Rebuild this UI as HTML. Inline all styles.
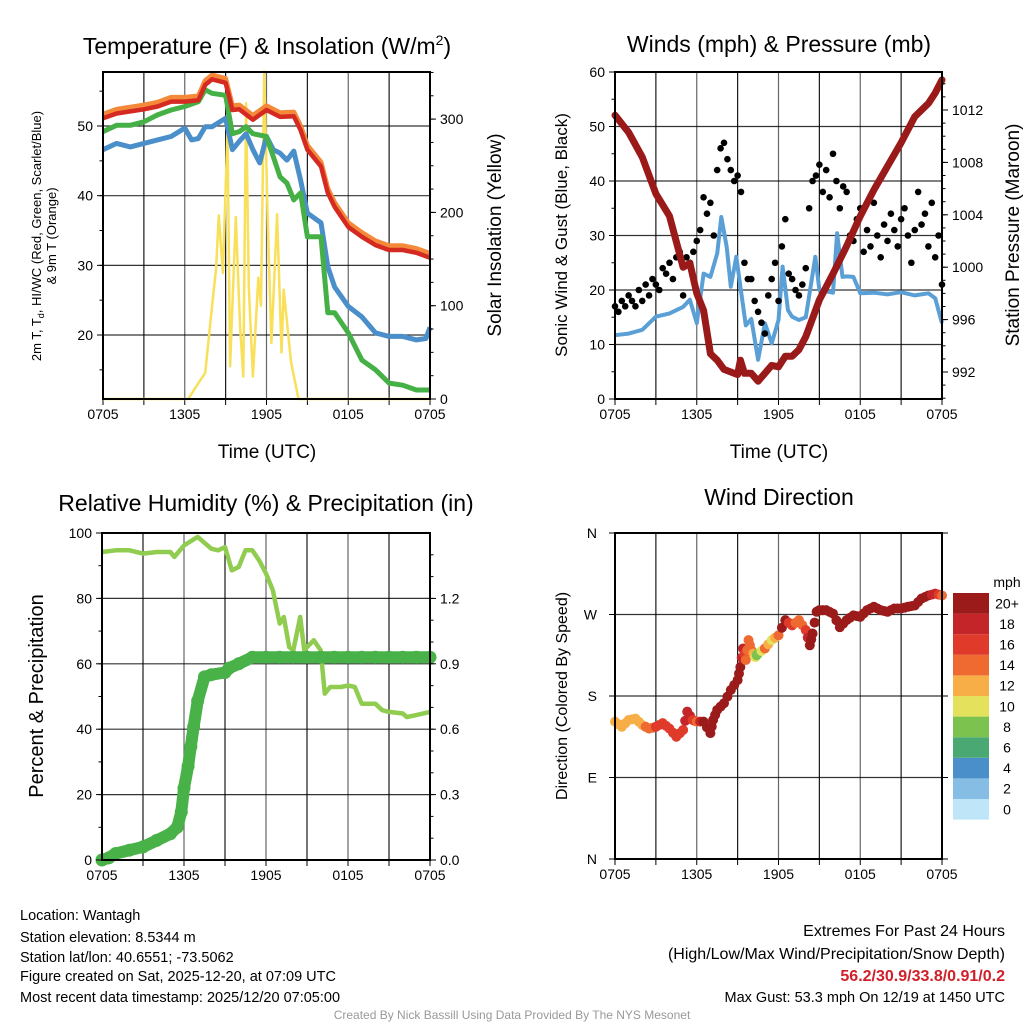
<!DOCTYPE html>
<html><head><meta charset="utf-8"><style>
html,body{margin:0;padding:0;background:#fff;}
svg{display:block;font-family:"Liberation Sans",sans-serif;}
</style></head><body>
<svg id="c" width="1024" height="1024" viewBox="0 0 1024 1024" xmlns="http://www.w3.org/2000/svg">
<rect width="1024" height="1024" fill="#fff"/>
<text x="267" y="54" font-size="23" text-anchor="middle">Temperature (F) &amp; Insolation (W/m<tspan dy="-9" font-size="14">2</tspan><tspan dy="9">)</tspan></text>
<text x="779" y="52" font-size="23" text-anchor="middle">Winds (mph) &amp; Pressure (mb)</text>
<text x="266" y="511" font-size="23" text-anchor="middle">Relative Humidity (%) &amp; Precipitation (in)</text>
<text x="779" y="505" font-size="23" text-anchor="middle">Wind Direction</text>
<g font-size="13" text-anchor="middle">
<text transform="translate(41,236) rotate(-90)">2m T, T<tspan font-size="9" dy="3">d</tspan><tspan dy="-3">, HI/WC (Red, Green, Scarlet/Blue)</tspan></text>
<text transform="translate(56,236) rotate(-90)">&amp; 9m T (Orange)</text>
</g>
<text transform="translate(501,235) rotate(-90)" font-size="19" text-anchor="middle">Solar Insolation (Yellow)</text>
<text x="267" y="458" font-size="19" text-anchor="middle">Time (UTC)</text>
<text x="779" y="458" font-size="19" text-anchor="middle">Time (UTC)</text>
<text transform="translate(567,235) rotate(-90)" font-size="17" text-anchor="middle">Sonic Wind &amp; Gust (Blue, Black)</text>
<text transform="translate(1019,235) rotate(-90)" font-size="19" text-anchor="middle">Station Pressure (Maroon)</text>
<text transform="translate(43,696) rotate(-90)" font-size="20" text-anchor="middle">Percent &amp; Precipitation</text>
<text transform="translate(567,696) rotate(-90)" font-size="16" text-anchor="middle">Direction (Colored By Speed)</text>
<g font-size="14.5">
<text x="20" y="920">Location: Wantagh</text>
<text x="20" y="942">Station elevation: 8.5344 m</text>
<text x="20" y="962">Station lat/lon: 40.6551; -73.5062</text>
<text x="20" y="981">Figure created on Sat, 2025-12-20, at 07:09 UTC</text>
<text x="20" y="1002">Most recent data timestamp: 2025/12/20 07:05:00</text>
</g>
<g text-anchor="end">
<text x="1005" y="936" font-size="16">Extremes For Past 24 Hours</text>
<text x="1005" y="959" font-size="16">(High/Low/Max Wind/Precipitation/Snow Depth)</text>
<text x="1005" y="981" font-size="16" font-weight="bold" fill="#d0202a">56.2/30.9/33.8/0.91/0.2</text>
<text x="1005" y="1002" font-size="14.5">Max Gust: 53.3 mph On 12/19 at 1450 UTC</text>
</g>
<text x="512" y="1019" font-size="12" fill="#999" text-anchor="middle">Created By Nick Bassill Using Data Provided By The NYS Mesonet</text>
<g id="layer"></g>
</svg>
<script>
// ---------- data ----------
const xTickLabels = ["0705","1305","1905","0105","0705"];
const tRed = [0,1,2,3,4,5,6,7,7.5,8,9,9.5,10,11,12,13,14,14.5,15,16,16.5,17,18,19,20,21,22,23,24];
const tempRed = [51.1,51.8,52.1,52.4,52.8,53.5,53.5,53.7,55.9,56.7,56.2,52.3,52.4,50.9,52.3,51.3,51.4,49.4,46.6,44.2,40.4,38.4,35.5,34.1,32.9,32.2,32.2,31.8,31.1];
const tempOrangeOffset = [0.6];
const tGreen = [0,1,2,3,4,5,6,7,7.5,8,9,9.5,10,10.5,11,12,12.5,13,13.5,14,14.5,15,16,16.5,17,18,19,20,21,22,23,24];
const tempGreen = [49.2,50.1,50.1,50.6,51.6,52.3,52.8,53.5,55.2,54.7,54.4,48.9,49.2,49.9,48.9,48.5,45.6,42.7,41.8,39.4,40.4,34.1,34.1,23.2,23.2,20.3,16.4,15,13.1,12.8,12.1,12.1];
const tBlue = [0,1,2,3,4,5,6,6.5,7,7.5,8,9,9.5,10,10.5,11,11.5,12,12.5,13,13.5,14,14.5,15,16,16.5,17,18,19,20,21,22,23,23.7,24];
const tempBlue = [46.6,47.5,47,47.5,48,48.5,49.7,48,48.2,49.9,49.9,51.1,46.6,47.8,48.9,46.6,44.7,48.5,46.6,46.1,45.1,46.4,42.2,37.5,36.1,29.8,26.9,24.1,22.6,20.3,19.8,19.8,19.3,19.5,21.1];
const tSolar = [0,6.25,7,7.5,8,8.3,8.5,8.8,9.14,9.33,9.75,10.06,10.3,10.5,10.7,11,11.4,11.6,11.83,12.07,12.36,12.78,13.1,13.26,13.8,14.35,24];
const solar = [0,0,17,28,99,140,197,135,288,35,195,77,24,317,120,24,130,100,351,200,60,198,50,117,40,0,0];
const tempTicks = [20,30,40,50];
const solarTicks = [0,100,200,300];

const tPres = [0,1,2,3,4,5,5.5,6,6.5,7,7.5,8,8.5,9,9.2,9.5,10,10.5,11,11.5,12,12.5,13,13.5,14,15,16,17,18,19,20,21,22,23,23.5,24];
const pressure = [1011.6,1010.3,1008.4,1005.6,1003.9,1000,1000.3,998,996.7,993.4,992.9,992.2,992,991.8,992.9,991.9,991.9,991.3,991.9,992.5,992.4,993.2,993.2,993.7,994.7,997.5,999.5,1001.6,1003.9,1005.9,1007.7,1009.5,1011.5,1012.5,1013.3,1014.3];
const tWind = [0,1,2,3,4,5,5.5,6,6.5,7,7.5,7.8,8.2,8.5,8.9,9.2,9.6,10,10.5,11,11.5,12,12.3,12.7,13,13.5,14,14.7,15,16,16.3,16.7,17,17.5,18,19,20,21,22,23,23.5,24];
const wind = [11.7,12,12.7,15.1,15.7,16.9,18.2,13.9,23,22.4,26.7,33.4,27.9,20.6,26.1,20.6,13.5,14.7,7.2,13.9,10.2,14.5,24.3,16.3,15.1,14.5,15,26.1,20,19.5,30.4,22.4,22.5,22.4,19.4,19.5,19.2,19.6,19,19.4,18.5,13.9];
const gusts = [17,16,18,17, 19,18,17,20, 18,21,19,22, 21,20,24,23, 25,22,26,27, 19,26,25,27, 29,31,37,34, 36,30,42,46, 47,44,42,40, 41,38,25,22, 22,18,16,14, 12,19,22,25, 18,28,33,23, 22,20,19,21, 24,35,40,41, 43,38,42,37, 45,40,35,39, 38,30,29,33, 35,27,31,28, 36,30,26,32, 29,34,31,28, 33,35,30,25, 31,38,32,34, 28,36,26,30, 21];
const gustStep = [0.25];
const windTicks = [0,10,20,30,40,50,60];
const presTicks = [992,996,1000,1004,1008,1012];

const tRH = [0,1,2,3,4,5,5.3,6,7,8,8.5,9,9.5,10,10.5,11,11.5,12,12.5,13,13.3,13.7,14,14.5,14.8,15,15.5,16,16.3,16.7,17,17.5,18,18.5,19,20,20.5,21,22,22.3,23,24];
const rh = [94.2,94.7,94.7,93.7,94.2,94.2,92.7,96.2,98.8,95.2,94.7,95.7,88.6,89.6,94.7,94.7,91.6,87.6,82.5,72.3,74.3,65.1,64.1,74.3,64.1,65.1,67.2,64.1,50.9,52.9,52.9,52.9,53.4,52.9,47.8,47.8,45.8,45.3,44.8,43.7,44.3,45.3];
const tPrecip = [0,0.5,1,2,3,4,5,5.5,5.8,6,6.3,6.5,6.7,7,7.5,8,9,9.3,10,11,12,13,14,15,16,17,18,19,20,21,22,23,24];
const precip = [0,0.01,0.03,0.045,0.06,0.09,0.12,0.15,0.22,0.33,0.43,0.52,0.61,0.73,0.84,0.85,0.86,0.88,0.9,0.93,0.93,0.93,0.93,0.93,0.93,0.93,0.93,0.93,0.93,0.93,0.93,0.93,0.93];
const rhTicks = [0,20,40,60,80,100];
const precipTicks = ["0.0","0.3","0.6","0.9","1.2"];

const tDir = [0,0.5,1,1.5,2,2.5,3,3.5,4,4.5,5,5.3,5.7,6,6.5,7,7.2,7.5,8,8.5,9,9.2,9.4,9.6,9.8,10,10.3,10.5,11,11.5,12,12.5,13,13.5,14,14.3,14.5,14.8,15,15.5,16,16.5,17,17.5,18,18.5,19,19.5,20,20.5,21,21.5,22,22.5,23,23.5,24];
const direction = [151.7,146,153.5,155,148,144,146,150,144,135,142.5,162.7,153.5,151.7,151.7,139,153.5,164.6,172,186.6,197.6,212,232.5,219.7,241.7,230.7,223,227,232.5,241.7,247,263.8,258,263.8,252.7,236,249,273,274.8,274.8,271,256,263.8,269,267.4,274.8,278.5,274.8,273,276.6,276.6,278.5,280,287.6,291,293,291];
const dirLabels = ["N","W","S","E","N"];
const dirTickDeg = [360,270,180,90,0];
const speedLabels = ["0","2","4","6","8","10","12","14","16","18","20+"];
const speedColors = ["#bfe6f8","#85bde4","#4a8fca","#4aa872","#7cc24f","#e4e15c","#f7ae46","#ef6a30","#df3a2a","#c32528","#9b1b1b"];

// ---------- helpers ----------
const NS = "http://www.w3.org/2000/svg";
const layer = document.getElementById("layer");
function el(tag, attrs, parent) {
  const e = document.createElementNS(NS, tag);
  for (const k in attrs) e.setAttribute(k, attrs[k]);
  (parent || layer).appendChild(e);
  return e;
}
function interp(ts, vs, t) {
  for (let i = 0; i < ts.length - 1; i++) {
    if (t >= ts[i] && t <= ts[i+1]) { const f = (t - ts[i]) / (ts[i+1] - ts[i] || 1); return vs[i] + f * (vs[i+1] - vs[i]); }
  }
  return vs[vs.length - 1];
}
function pathD(ts, vs, X, Y) { return ts.map((t, i) => (i ? "L" : "M") + X(t).toFixed(1) + "," + Y(vs[i]).toFixed(1)).join(""); }

function frame(x0, x1, y0, y1, name, hGrid) {
  const g = el("g", {});
  
  
  for (let h = 3; h < 24; h += 3) {
    const x = x0 + h * (x1 - x0) / 24;
    el("line", {x1: x, x2: x, y1: y0, y2: y1, stroke: "#000", "stroke-width": 1.2, "stroke-opacity": h % 6 === 0 ? 0.6 : 0.9}, g);
  }
  hGrid.forEach(y => el("line", {x1: x0, x2: x1, y1: y, y2: y, stroke: "#000", "stroke-width": 1.2, "stroke-opacity": 0.8}, g));
  for (let h = 0; h <= 24; h += 3) {
    const x = x0 + h * (x1 - x0) / 24;
    el("line", {x1: x, x2: x, y1: y1, y2: y1 + 6, stroke: "#000", "stroke-width": 1}, g);
    if (h % 6 === 0) {
      const tx = el("text", {x: x, y: y1 + 20, "font-size": 14, "text-anchor": "middle"}, g);
      
      
      tx.textContent = xTickLabels[h / 6];
    }
  }
  return g;
}
function border(x0, x1, y0, y1) {
  const r = el("rect", {x: x0, y: y0, width: x1 - x0, height: y1 - y0, fill: "none", stroke: "#000", "stroke-width": 2});
  
  
}
function yTicks(vals, labels, Y, x, side, name, minorStep, vmin, vmax) {
  const dir = side === "left" ? -1 : 1;
  vals.forEach((v, i) => {
    const y = Y(v);
    el("line", {x1: x, x2: x + dir * 6, y1: y, y2: y, stroke: "#000", "stroke-width": 1});
    const t = el("text", {x: x + dir * 10, y: y + 5, "font-size": 14, "text-anchor": side === "left" ? "end" : "start"});
    
    
    t.textContent = labels[i];
  });
  if (minorStep) for (let v = Math.ceil(vmin / minorStep) * minorStep; v <= vmax; v += minorStep) {
    const y = Y(v);
    el("line", {x1: x, x2: x + dir * 3.5, y1: y, y2: y, stroke: "#000", "stroke-width": 1});
  }
}

// ---------- Panel 1: temperature ----------
(function () {
  const x0 = 103, x1 = 430, y0 = 72, y1 = 399;
  const X = t => x0 + t * (x1 - x0) / 24;
  const YT = v => 126 + (50 - v) * 6.967;
  const YS = v => 399 - v * 0.933;
  frame(x0, x1, y0, y1, "temperature", tempTicks.map(YT));
  const s = el("path", {d: pathD(tSolar, solar, X, YS), fill: "none", stroke: "#f8e05a", "stroke-width": 2.5, "stroke-linejoin": "round"});
  
  
  const b = el("path", {d: pathD(tBlue, tempBlue, X, YT), fill: "none", stroke: "#4a8fca", "stroke-width": 5, "stroke-linejoin": "round"});
  
  
  const g = el("path", {d: pathD(tGreen, tempGreen, X, YT), fill: "none", stroke: "#45b045", "stroke-width": 5, "stroke-linejoin": "round"});
  
  
  const o = el("path", {d: pathD(tRed, tempRed.map(v => v + tempOrangeOffset[0]), X, YT), fill: "none", stroke: "#f5893a", "stroke-width": 5, "stroke-linejoin": "round"});
  
  
  const r = el("path", {d: pathD(tRed, tempRed, X, YT), fill: "none", stroke: "#d42a22", "stroke-width": 4.5, "stroke-linejoin": "round"});
  
  
  border(x0, x1, y0, y1);
  yTicks(tempTicks, tempTicks.map(String), YT, x0, "left", "temperature-y", 5, 12, 57);
  yTicks(solarTicks, solarTicks.map(String), YS, x1, "right", "insolation-y", 25, 0, 350);
})();

// ---------- Panel 2: winds & pressure ----------
(function () {
  const x0 = 615, x1 = 942, y0 = 72, y1 = 399;
  const X = t => x0 + t * (x1 - x0) / 24;
  const YW = v => 399 - v * 5.45;
  const YP = p => 372 - (p - 992) * 13.1;
  frame(x0, x1, y0, y1, "winds", windTicks.slice(1, 6).map(YW));
  const w = el("path", {d: pathD(tWind, wind, X, YW), fill: "none", stroke: "#5a9fd6", "stroke-width": 4, "stroke-linejoin": "round"});
  
  
  gusts.forEach((v, i) => {
    const c = el("circle", {cx: X(i * gustStep[0]), cy: YW(v), r: 3.3, fill: "#000"});
    
    
  });
  const p = el("path", {d: pathD(tPres, pressure, X, YP), fill: "none", stroke: "#9a1a1a", "stroke-width": 7, "stroke-linejoin": "round", "stroke-linecap": "round"});
  
  
  border(x0, x1, y0, y1);
  yTicks(windTicks, windTicks.map(String), YW, x0, "left", "wind-y", 5, 0, 60);
  yTicks(presTicks, presTicks.map(String), YP, x1, "right", "pressure-y", 1, 990, 1014);
})();

// ---------- Panel 3: RH & precip ----------
(function () {
  const x0 = 102, x1 = 430, y0 = 533, y1 = 860;
  const X = t => x0 + t * (x1 - x0) / 24;
  const YR = v => 860 - v * 3.27;
  const YPr = p => 860 - p * 218;
  frame(x0, x1, y0, y1, "humidity", rhTicks.slice(1, 5).map(YR));
  const r = el("path", {d: pathD(tRH, rh, X, YR), fill: "none", stroke: "#8fcc4f", "stroke-width": 4.5, "stroke-linejoin": "round"});
  
  
  const pp = el("path", {d: pathD(tPrecip, precip, X, YPr), fill: "none", stroke: "#48b248", "stroke-width": 12, "stroke-linejoin": "round", "stroke-linecap": "round"});
  
  
  tPrecip.forEach((t, i) => {
    const c = el("circle", {cx: X(t), cy: YPr(precip[i]), r: 6.5, fill: "#48b248"});
    
    
  });
  border(x0, x1, y0, y1);
  yTicks(rhTicks, rhTicks.map(String), YR, x0, "left", "humidity-y", 10, 0, 100);
  yTicks(precipTicks.map(Number), precipTicks, YPr, x1, "right", "precip-y", 0.1, 0, 1.5);
})();

// ---------- Panel 4: wind direction ----------
(function () {
  const x0 = 615, x1 = 942, y0 = 533, y1 = 859;
  const X = t => x0 + t * (x1 - x0) / 24;
  const YD = d => 859 - d * 326 / 360;
  const colorFor = sp => speedColors[Math.min(10, Math.max(0, Math.round(sp / 2)))];
  frame(x0, x1, y0, y1, "direction", dirTickDeg.slice(1, 4).map(YD));
  tDir.forEach((t, i) => {
    const c = el("circle", {cx: X(t), cy: YD(direction[i]), r: 5, fill: colorFor(interp(tWind, wind, t))});
    
    
    if (i < tDir.length - 1) {
      const tm = (t + tDir[i+1]) / 2;
      const c2 = el("circle", {cx: X(tm), cy: YD((direction[i] + direction[i+1]) / 2), r: 5, fill: colorFor(interp(tWind, wind, tm))});
      
      
    }
  });
  border(x0, x1, y0, y1);
  dirTickDeg.forEach((d, i) => {
    const y = YD(d);
    el("line", {x1: x0 - 6, x2: x0, y1: y, y2: y, stroke: "#000"});
    el("line", {x1: x1, x2: x1 + 6, y1: y, y2: y, stroke: "#000"});
    const t = el("text", {x: x0 - 18, y: y + 5, "font-size": 14, "text-anchor": "end"});
    
    
    t.textContent = dirLabels[i];
  });
  const cb = el("g", {});
  
  
  const bx = 953, bw = 36, by = 593, bh = 20.6;
  speedColors.forEach((col, i) => {
    const y = by + (10 - i) * bh;
    el("rect", {x: bx, y: y, width: bw, height: bh, fill: col}, cb);
    const t = el("text", {x: 1007, y: y + bh / 2 + 5, "font-size": 14, "text-anchor": "middle"}, cb);
    
    
    t.textContent = speedLabels[i];
  });
  const m = el("text", {x: 1007, y: 587, "font-size": 14, "text-anchor": "middle"}, cb);
  
  
  m.textContent = "mph";
})();
</script>
</body></html>
